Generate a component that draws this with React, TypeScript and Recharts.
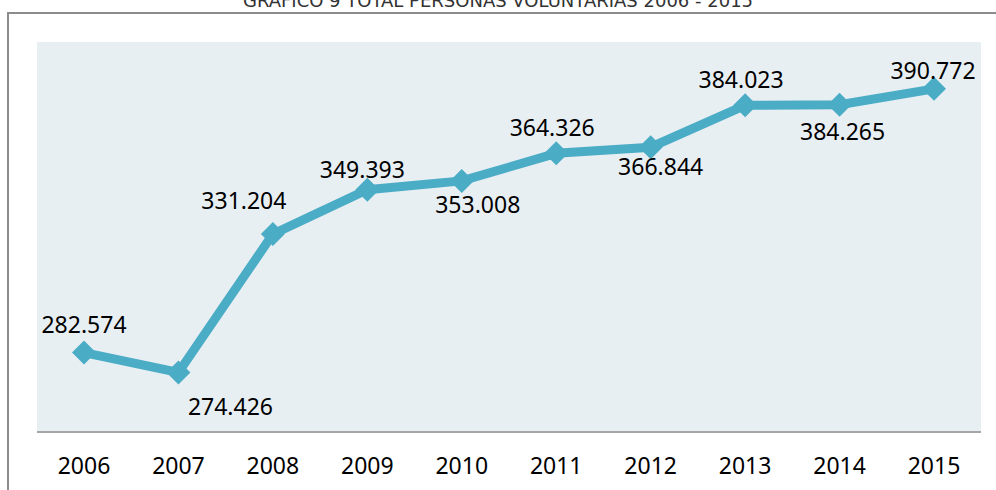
import { LineChart, Line, XAxis, YAxis, CartesianGrid, LabelList } from "recharts"

const years = ["2006", "2007", "2008", "2009", "2010", "2011", "2012", "2013", "2014", "2015"]
const volunteers = [282574, 274426, 331204, 349393, 353008, 364326, 366844, 384023, 384265, 390772]

const data = years.map((year, i) => ({ year, value: volunteers[i] }))

// label offsets relative to each point (dx, dy)
const labelOffsets = [
  [0, -29],
  [52, 34],
  [-29, -34],
  [-5, -21],
  [16, 23],
  [-4, -26],
  [10, 19],
  [-4, -26],
  [3, 26],
  [-1, -19],
]

const fmt = (v: number) => v.toLocaleString("de-DE")

const Diamond = (props: any) => {
  const { cx, cy } = props
  if (cx == null || cy == null) return null
  const r = 12
  return (
    <polygon
      points={`${cx},${cy - r} ${cx + r},${cy} ${cx},${cy + r} ${cx - r},${cy}`}
      fill="#4BACC6"
    />
  )
}

const ValueLabel = (props: any) => {
  const { x, y, value, index } = props
  const [dx, dy] = labelOffsets[index]
  return (
    <text
      x={x + dx}
      y={y + dy}
      textAnchor="middle"
      dominantBaseline="central"
      fontFamily="Noto Sans"
      fontSize={23}
      fill="#000"
    >
      {fmt(value)}
    </text>
  )
}

export default function App() {
  return (
    <div style={{ position: "absolute", left: 0, top: 0, width: 996, height: 490, overflow: "hidden", background: "#fff" }}>
      <svg width={996} height={490} style={{ position: "absolute", left: 0, top: 0 }}>
        <text x={498} y={7} textAnchor="middle" fontFamily="DejaVu Sans" fontSize={18} fill="#333">
          GRÁFICO 9 TOTAL PERSONAS VOLUNTARIAS 2006 - 2015
        </text>
        <line x1={8} y1={13} x2={996} y2={13} stroke="#8c8c8c" strokeWidth={2} />
        <line x1={8} y1={12} x2={8} y2={490} stroke="#8c8c8c" strokeWidth={2} />
      </svg>
      <div style={{ position: "absolute", left: 0, top: 0 }}>
        <LineChart width={996} height={490} data={data} margin={{ top: 42, left: 37, right: 15, bottom: 0 }}>
          <CartesianGrid fill="#e8eff3" horizontal={false} vertical={false} />
          <XAxis
            dataKey="year"
            height={58}
            padding={{ left: 47, right: 47 }}
            axisLine={{ stroke: "#a6a6a6", strokeWidth: 2 }}
            tickLine={false}
            tick={{ fill: "#000", fontSize: 23, fontFamily: "Noto Sans" }}
            tickMargin={20}
          />
          <YAxis hide domain={[250000, 410000]} />
          <Line
            dataKey="value"
            stroke="#4BACC6"
            strokeWidth={9}
            dot={<Diamond />}
            activeDot={false}
            isAnimationActive={false}
          >
            <LabelList dataKey="value" content={<ValueLabel />} />
          </Line>
        </LineChart>
      </div>
    </div>
  )
}
